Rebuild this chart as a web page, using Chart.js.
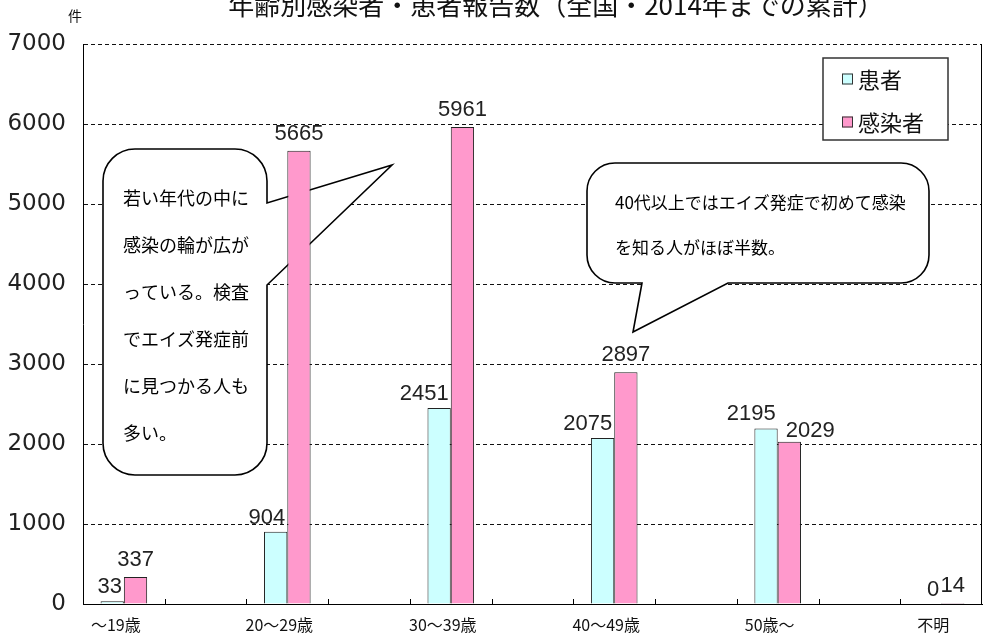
<!DOCTYPE html>
<html>
<head>
<meta charset="utf-8">
<title>年齢別感染者・患者報告数</title>
<script src="https://cdn.jsdelivr.net/npm/chart.js@4/dist/chart.umd.min.js"></script>
<style>
	html, body { margin: 0; padding: 0; background: #fff; }
	#wrap { position: relative; width: 984px; height: 637px; }
</style>
</head>
<body>
<div id="wrap"><canvas id="mycanvas" width="984" height="637"></canvas></div>
<script>
var chartTitle = '年齢別感染者・患者報告数（全国・2014年までの累計）';
var unitLabel = '件';
var ageGroups = ['～19歳', '20～29歳', '30～39歳', '40～49歳', '50歳～', '不明'];
var patients = [33, 904, 2451, 2075, 2195, 0];
var infected = [337, 5665, 5961, 2897, 2029, 14];
var seriesNames = ['患者', '感染者'];
var yTicks = [0, 1000, 2000, 3000, 4000, 5000, 6000, 7000];
var noteLeft = ['若い年代の中に', '感染の輪が広が', 'っている。検査', 'でエイズ発症前', 'に見つかる人も', '多い。'];
var noteRight = ['40代以上ではエイズ発症で初めて感染', 'を知る人がほぼ半数。'];

var cyan = '#ccffff';
var pink = '#ff99cc';
var jp = "'Noto Sans CJK JP', sans-serif";

// Excel leaves an empty slot between every age group
var labels = [], patientSlots = [], infectedSlots = [];
for (var i = 0; i < ageGroups.length; i++) {
	if (i > 0) {
		labels.push('');
		patientSlots.push(null);
		infectedSlots.push(null);
	}
	labels.push(ageGroups[i]);
	patientSlots.push(patients[i]);
	infectedSlots.push(infected[i]);
}

function bubble(ctx, x0, y0, x1, y1, r, side, tail) {
	ctx.beginPath();
	ctx.moveTo(x0 + r, y0);
	ctx.lineTo(x1 - r, y0);
	ctx.arcTo(x1, y0, x1, y0 + r, r);
	if (side == 'right') {
		for (var k = 0; k < tail.length; k++) ctx.lineTo(tail[k][0], tail[k][1]);
	}
	ctx.lineTo(x1, y1 - r);
	ctx.arcTo(x1, y1, x1 - r, y1, r);
	if (side == 'bottom') {
		for (var k = 0; k < tail.length; k++) ctx.lineTo(tail[k][0], tail[k][1]);
	}
	ctx.lineTo(x0 + r, y1);
	ctx.arcTo(x0, y1, x0, y1 - r, r);
	ctx.lineTo(x0, y0 + r);
	ctx.arcTo(x0, y0, x0 + r, y0, r);
	ctx.closePath();
	ctx.fillStyle = '#fff';
	ctx.fill();
	ctx.lineWidth = 1.6;
	ctx.strokeStyle = '#000';
	ctx.stroke();
}

var extras = {
	id: 'extras',
	beforeDatasetsDraw: function(chart) {
		var ctx = chart.ctx;
		ctx.save();
		bubble(ctx, 103, 149, 267, 475, 32, 'right', [[267, 203], [392, 165], [267, 285]]);
		bubble(ctx, 587, 163, 929, 283, 28, 'bottom', [[728, 283], [633, 332], [642, 283]]);
		ctx.fillStyle = '#000';
		ctx.textBaseline = 'middle';
		ctx.textAlign = 'left';
		ctx.font = '18px ' + jp;
		for (var k = 0; k < noteLeft.length; k++) ctx.fillText(noteLeft[k], 123, 198 + k * 47);
		ctx.font = '17px ' + jp;
		for (var k = 0; k < noteRight.length; k++) ctx.fillText(noteRight[k], 615, 203 + k * 45);
		ctx.restore();
	},
	afterDatasetsDraw: function(chart) {
		var ctx = chart.ctx;
		var area = chart.chartArea;
		ctx.save();

		// value labels
		var cyanBars = chart.getDatasetMeta(0).data;
		var pinkBars = chart.getDatasetMeta(1).data;
		ctx.font = "22px 'Liberation Sans', sans-serif";
		ctx.fillStyle = '#222';
		ctx.textBaseline = 'alphabetic';
		for (var k = 0; k < patientSlots.length; k++) {
			if (patientSlots[k] === null) continue;
			var a = cyanBars[k], b = pinkBars[k];
			ctx.textAlign = 'right';
			ctx.fillText(patientSlots[k], a.x + a.width / 2 - 2, a.y - 8);
			if (infectedSlots[k] <= patientSlots[k] && patientSlots[k] > 0) {
				ctx.textAlign = 'left';
				ctx.fillText(infectedSlots[k], b.x - b.width / 2 + 8, b.y - 5);
			} else {
				ctx.textAlign = 'center';
				ctx.fillText(infectedSlots[k], b.x, b.y - 11);
			}
		}

		// inner tick marks on the category axis
		ctx.strokeStyle = '#000';
		ctx.lineWidth = 1;
		var step = (area.right - area.left) / labels.length;
		ctx.beginPath();
		for (var k = 1; k < labels.length; k++) {
			var tx = Math.round(area.left + k * step) + 0.5;
			ctx.moveTo(tx, area.bottom);
			ctx.lineTo(tx, area.bottom - 5);
		}
		ctx.moveTo(area.right - 0.5, area.top);
		ctx.lineTo(area.right - 0.5, area.bottom);
		ctx.stroke();

		// legend box
		ctx.fillStyle = '#fff';
		ctx.fillRect(823, 58, 125, 82);
		ctx.strokeStyle = '#333';
		ctx.lineWidth = 1.5;
		ctx.strokeRect(823, 58, 125, 82);
		var colors = [cyan, pink];
		ctx.font = '22px ' + jp;
		ctx.textAlign = 'left';
		ctx.textBaseline = 'middle';
		for (var k = 0; k < seriesNames.length; k++) {
			var ly = 79 + k * 43;
			ctx.fillStyle = colors[k];
			ctx.fillRect(842, ly - 5.5, 11, 11);
			ctx.lineWidth = 1;
			ctx.strokeRect(842.5, ly - 5, 10, 10);
			ctx.fillStyle = '#111';
			ctx.fillText(seriesNames[k], 858, ly + 1);
		}
		ctx.restore();
	},
	afterDraw: function(chart) {
		var ctx = chart.ctx;
		ctx.save();
		ctx.fillStyle = '#111';
		ctx.textAlign = 'center';
		ctx.textBaseline = 'middle';
		ctx.font = '26px ' + jp;
		ctx.fillText(chartTitle, 556, 5);
		ctx.font = '14px ' + jp;
		ctx.fillText(unitLabel, 75, 16);
		ctx.restore();
	}
};

var chartdata = {
	labels: labels,
	datasets: [
		{
			label: seriesNames[0],
			backgroundColor: cyan,
			borderColor: '#222',
			borderWidth: 1,
			data: patientSlots
		},
		{
			label: seriesNames[1],
			backgroundColor: pink,
			borderColor: '#222',
			borderWidth: 1,
			data: infectedSlots
		}
	]
};

var ctx = document.getElementById('mycanvas');

var barGraph = new Chart(ctx, {
	type: 'bar',
	data: chartdata,
	plugins: [extras],
	options: {
		responsive: false,
		animation: false,
		layout: { padding: { top: 44, right: 2, left: 0, bottom: 0 } },
		datasets: {
			bar: { categoryPercentage: 0.57, barPercentage: 1.0 }
		},
		plugins: {
			legend: { display: false },
			tooltip: { enabled: false },
			title: { display: false }
		},
		scales: {
			x: {
				grid: { display: false },
				border: { display: true, color: '#000', width: 1 },
				ticks: {
					autoSkip: false,
					maxRotation: 0,
					padding: 3,
					labelOffset: -8,
					color: '#111',
					font: { family: jp, size: 16 }
				},
				afterFit: function(scale) { scale.height = 33; }
			},
			y: {
				min: 0,
				max: 7000,
				afterBuildTicks: function(scale) {
					scale.ticks = yTicks.map(function(v) { return { value: v }; });
				},
				grid: { color: '#111', lineWidth: 1, drawTicks: false },
				border: { display: true, color: '#000', width: 1, dash: [4, 3] },
				ticks: {
					padding: 17,
					color: '#222',
					font: { family: "'DejaVu Sans', sans-serif", size: 23 },
					callback: function(v) { return String(v); }
				},
				afterFit: function(scale) { scale.width = 83; }
			}
		}
	}
});
</script>
</body>
</html>
